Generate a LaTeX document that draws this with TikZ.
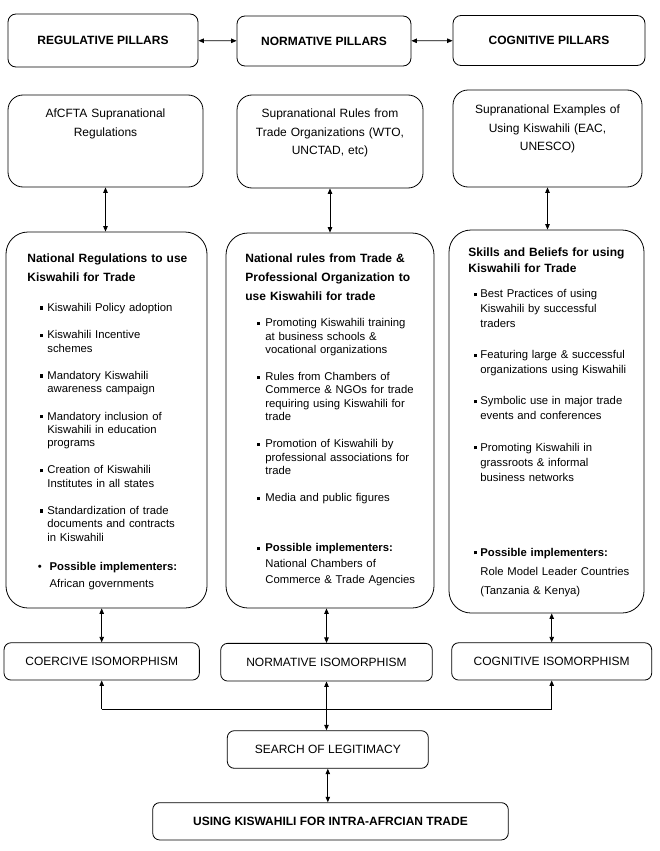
\documentclass[tikz,border=0pt]{standalone}
\usepackage{fontspec}
\setmainfont{Liberation Sans}
\usetikzlibrary{arrows.meta}
\newcommand\sqb[1]{\rule[1.6pt]{#1}{#1}}
\newcommand\bitem[3]{\hangindent=#1\hangafter=1\makebox[#1][l]{#2}#3\par}
\begin{document}
\begin{tikzpicture}[x=1pt,y=-1pt,
  line width=0.8pt,
  >={Triangle[length=5.5pt,width=4.5pt]},
  box/.style={draw, inner sep=0pt, font=\fontsize{12}{14}\selectfont},
  pillar/.style={box, rounded corners=8pt, font=\fontsize{12}{14}\selectfont\bfseries},
  supra/.style={box, rounded corners=15pt},
  natbox/.style={box, rounded corners=22pt},
  iso/.style={box, rounded corners=7pt},
  ctext/.style={inner sep=0pt, anchor=base, text width=#1, align=center, font=\fontsize{12}{18.5}\selectfont},
  head/.style={inner sep=0pt, anchor=base west, text width=200pt, align=left},
  lst/.style={inner sep=0pt, anchor=base west, text width=#1, align=left, font=\fontsize{11.3}{13.3}\selectfont},
  link/.style={<->}
]
\useasboundingbox (0,0) rectangle (659,851);

% top row
\node[pillar, minimum width=190pt, minimum height=53pt] (reg) at (103,40.5) {REGULATIVE PILLARS};
\node[pillar, minimum width=174pt, minimum height=50pt] (nor) at (324,41) {NORMATIVE PILLARS};
\node[pillar, minimum width=192pt, minimum height=50pt] (cog) at (549,40.5) {COGNITIVE PILLARS};

% second row
\node[supra, minimum width=195pt, minimum height=92pt] (afc) at (105.5,141) {};
\node[supra, minimum width=186pt, minimum height=93pt] (sup) at (330,141.5) {};
\node[supra, minimum width=189pt, minimum height=97pt] (exa) at (547.5,138.5) {};
\node[ctext=185pt] (afct) at (105.5,117.5) {AfCFTA Supranational\\Regulations};
\node[ctext=180pt] (supt) at (330,117.5) {Supranational Rules from\\Trade Organizations (WTO,\\UNCTAD, etc)};
\node[ctext=180pt] (exat) at (547.5,113.5) {Supranational Examples of\\Using Kiswahili (EAC,\\UNESCO)};

% third row
\node[natbox, minimum width=201pt, minimum height=376pt] (natL) at (106.5,420) {};
\node[natbox, minimum width=208pt, minimum height=375pt] (natM) at (330,420.5) {};
\node[natbox, minimum width=195pt, minimum height=383pt] (natR) at (546.5,421.5) {};

\node[head, font=\fontsize{12}{19.5}\selectfont\bfseries] (hL) at (27,262) {National Regulations to use\\Kiswahili for Trade};
\node[head, font=\fontsize{12}{19.2}\selectfont\bfseries] (hM) at (245,262.5) {National rules from Trade \&\\Professional Organization to\\use Kiswahili for trade};
\node[head, font=\fontsize{12}{16}\selectfont\bfseries] (hR) at (468,256.5) {Skills and Beliefs for using\\Kiswahili for Trade};

\node[lst=165pt] (lL) at (39.5,311.5) {\setlength\parskip{14pt}%
\bitem{7.5pt}{\sqb{3.5pt}}{Kiswahili Policy adoption}%
\bitem{7.5pt}{\sqb{3.5pt}}{Kiswahili Incentive\newline schemes}%
\bitem{7.5pt}{\sqb{3.5pt}}{Mandatory Kiswahili\newline awareness campaign}%
\bitem{7.5pt}{\sqb{3.5pt}}{Mandatory inclusion of\newline Kiswahili in education\newline programs}%
\bitem{7.5pt}{\sqb{3.5pt}}{Creation of Kiswahili\newline Institutes in all states}%
\bitem{7.5pt}{\sqb{3.5pt}}{Standardization of trade\newline documents and contracts\newline in Kiswahili}};
\node[lst=165pt, font=\fontsize{11.3}{16.6}\selectfont] (pL) at (37.5,570.7) {\makebox[11.8pt][l]{•}\makebox[136pt][s]{\bfseries Possible implementers:}\newline\hspace*{11.8pt}African governments};

\node[lst=172pt] (lM) at (257,326.7) {\setlength\parskip{14pt}%
\bitem{8pt}{\sqb{3pt}}{Promoting Kiswahili training\newline at business schools \&\newline vocational organizations}%
\bitem{8pt}{\sqb{3pt}}{Rules from Chambers of\newline Commerce \& NGOs for trade\newline requiring using Kiswahili for\newline trade}%
\bitem{8pt}{\sqb{3pt}}{Promotion of Kiswahili by\newline professional associations for\newline trade}%
\bitem{8pt}{\sqb{3pt}}{Media and public figures}};
\node[lst=172pt, font=\fontsize{11.3}{15.8}\selectfont] (pM) at (257,551.7) {%
\bitem{8pt}{\sqb{3pt}}{\textbf{Possible implementers:}\newline National Chambers of\newline Commerce \& Trade Agencies}};

\node[lst=168pt, font=\fontsize{11.3}{15}\selectfont] (lR) at (473.5,297.7) {\setlength\parskip{16.1pt}%
\bitem{6.5pt}{\sqb{3pt}}{Best Practices of using\newline Kiswahili by successful\newline traders}%
\bitem{6.5pt}{\sqb{3pt}}{Featuring large \& successful\newline organizations using Kiswahili}%
\bitem{6.5pt}{\sqb{3pt}}{Symbolic use in major trade\newline events and conferences}%
\bitem{6.5pt}{\sqb{3pt}}{Promoting Kiswahili in\newline grassroots \& informal\newline business networks}};
\node[lst=168pt, font=\fontsize{11.3}{19}\selectfont] (pR) at (473.5,556) {%
\bitem{6.5pt}{\sqb{3pt}}{\textbf{Possible implementers:}\newline Role Model Leader Countries\newline (Tanzania \& Kenya)}};

% isomorphism row
\node[iso, minimum width=195.3pt, minimum height=37.3pt] (coer) at (101.7,661.4) {COERCIVE ISOMORPHISM};
\node[iso, minimum width=211.6pt, minimum height=37.7pt] (nis) at (326.5,662.2) {NORMATIVE ISOMORPHISM};
\node[iso, minimum width=200pt, minimum height=37.3pt] (cis) at (551.7,661.4) {COGNITIVE ISOMORPHISM};

\node[iso, minimum width=201pt, minimum height=37.6pt] (search) at (327.8,749.5) {SEARCH OF LEGITIMACY};
\node[iso, minimum width=355.6pt, minimum height=37.3pt, font=\fontsize{12}{14}\selectfont\bfseries] (final) at (330.5,821.3) {USING KISWAHILI FOR INTRA-AFRCIAN TRADE};

% connectors
\draw[link] (reg) -- (nor);
\draw[link] (nor) -- (cog);
\draw[link] (afc.south) -- (afc.south |- natL.north);
\draw[link] (sup.south) -- (sup.south |- natM.north);
\draw[link] (exa.south) -- (exa.south |- natR.north);
\draw[link] (coer.north |- natL.south) -- (coer.north);
\draw[link] (nis.north |- natM.south) -- (nis.north);
\draw[link] (cis.north |- natR.south) -- (cis.north);
\coordinate (bus) at (0,709);
\draw (coer.south |- bus) -- (cis.south |- bus);
\draw[->] (coer.south |- bus) -- (coer.south);
\draw[->] (cis.south |- bus) -- (cis.south);
\draw[link] (nis.south) -- (nis.south |- search.north);
\draw[link] (search.south) -- (search.south |- final.north);
\end{tikzpicture}
\end{document}
